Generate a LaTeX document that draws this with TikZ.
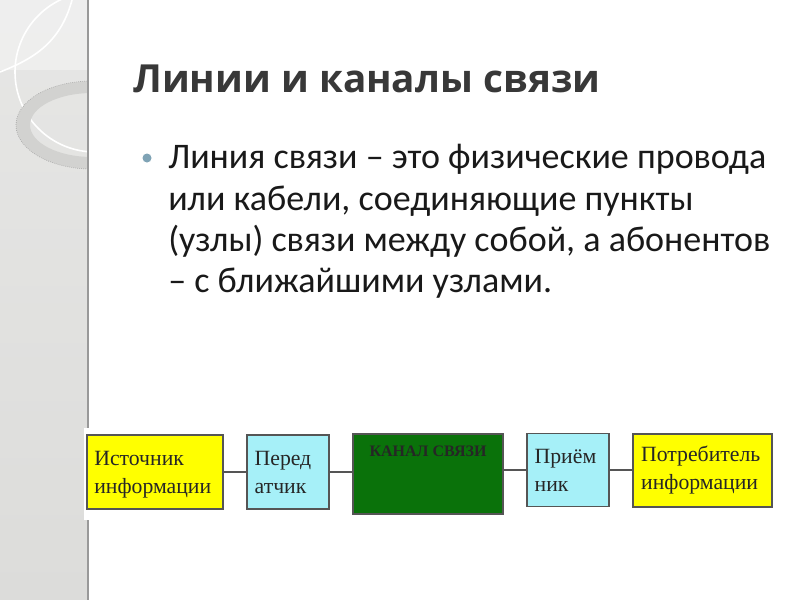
\documentclass[tikz,border=0pt]{standalone}
\usepackage{fontspec}
\setmainfont{Carlito}
\newfontfamily\titlefont{Open Sans}
\newfontfamily\boxfont{Liberation Serif}
\definecolor{stripgray}{HTML}{DCDCDA}
\definecolor{ringgray}{HTML}{D2D2D0}
\definecolor{titlegray}{HTML}{383838}
\definecolor{bulletblue}{HTML}{7FA3B5}
\definecolor{boxyellow}{HTML}{FFFF00}
\definecolor{boxcyan}{HTML}{A6F0F8}
\definecolor{boxgreen}{HTML}{0A720A}
\definecolor{linegray}{HTML}{555555}
\tikzset{
  block/.style={draw=linegray, line width=0.9pt, inner sep=0pt, text=black!85,
    font=\boxfont\fontsize{16.3}{21}\selectfont, align=left},
  wire/.style={draw=linegray, line width=1.2pt},
  bodyline/.style={anchor=base west, inner sep=0pt, text=black!90,
    font=\fontsize{27}{31}\selectfont}
}
\begin{document}
\begin{tikzpicture}[x=0.75pt, y=-0.75pt]
    \useasboundingbox (0,0) rectangle (800,600);
    \fill[white] (0,0) rectangle (800,600);
    % left strip
    \shade[top color=stripgray!70, bottom color=stripgray] (0,0) rectangle (88,600);
    \begin{scope}
        \clip (0,0) rectangle (88,600);
        \fill[white, opacity=0.35] (0,0) rectangle (88,70);
        \draw[white, line width=1.2pt] (95,72) circle (80);
        \draw[white, line width=1.2pt] (0,72) .. controls (30,60) and (60,45) .. (72,0);
        \fill[ringgray, even odd rule] (92,125) ellipse (76 and 44) (92,125) ellipse (62 and 32);
        \draw[gray!70, densely dotted, line width=0.5pt] (92,125) ellipse (76 and 44);
    \end{scope}
    \draw[gray!80, line width=1pt] (88,0) -- (88,600);
    \fill[white] (84,428) rectangle (100,520);
    % title and text
    \node[anchor=base west, inner sep=0pt, text=titlegray, font=\titlefont\bfseries\fontsize{29}{34}\selectfont]
        (title) at (133,92) {Линии и каналы связи};
    \fill[bulletblue] (147,158) circle (4.5);
    \node[bodyline] (body1) at (168,168) {Линия связи -- это физические провода};
    \node[bodyline] (body2) at (168,210) {или кабели, соединяющие пункты};
    \node[bodyline] (body3) at (168,251) {(узлы) связи между собой, а абонентов};
    \node[bodyline] (body4) at (168,292) {-- с ближайшими узлами.};
    % scheme
    \node[block, fill=boxyellow, minimum width=102pt, minimum height=55.5pt, text width=91pt]
        (src) at (155,472) {\rule{0pt}{15pt}Источник\\информации};
    \node[block, fill=boxcyan, minimum width=61.5pt, minimum height=55.5pt, text width=50pt]
        (tx) at (288,472) {Перед\\атчик};
    \node[block, fill=boxgreen, minimum width=112.5pt, minimum height=60pt]
        (chan) at (428,474) {};
    \node[anchor=north, inner sep=0pt, font=\boxfont\bfseries\fontsize{12}{14}\selectfont, text=black!85]
        (chanlbl) at ([yshift=-9pt]chan.north) {КАНАЛ СВЯЗИ};
    \node[block, fill=boxcyan, minimum width=61.5pt, minimum height=54.75pt, text width=50pt]
        (rx) at (568,470) {Приём\\ник};
    \node[block, fill=boxyellow, minimum width=104.25pt, minimum height=54.75pt, text width=92pt]
        (dst) at (702.5,470.5) {Потребитель\\информации};
    \draw[wire] (src.east) -- (tx.west);
    \draw[wire] (tx.east) -- (tx.east -| chan.west);
    \draw[wire] (rx.west -| chan.east) -- (rx.west);
    \draw[wire] (rx.east) -- (rx.east -| dst.west);
\end{tikzpicture}
\end{document}
